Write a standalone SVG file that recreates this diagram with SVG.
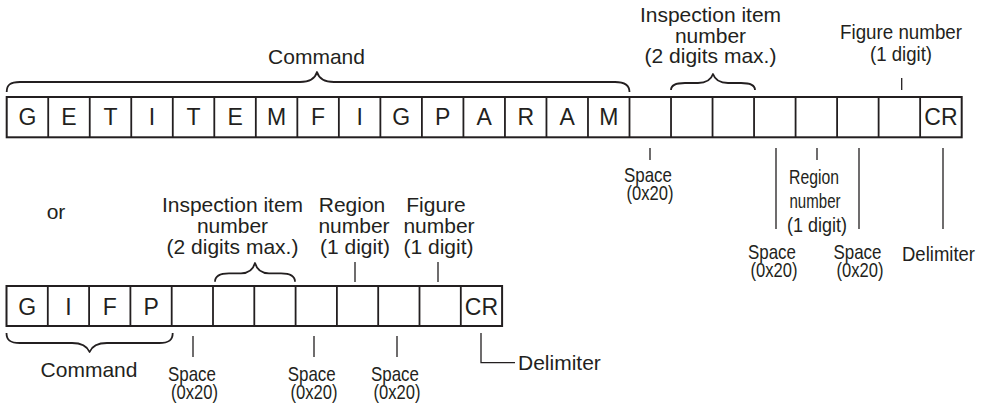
<svg xmlns="http://www.w3.org/2000/svg" width="988" height="406" viewBox="0 0 988 406">
<style>
.box{fill:#fff;stroke:#231f20;stroke-width:2}
.div{fill:none;stroke:#231f20;stroke-width:1.8}
.ln{fill:none;stroke:#231f20;stroke-width:1.3}
.br{fill:none;stroke:#231f20;stroke-width:1.8;stroke-linejoin:round}
text{font-family:"Liberation Sans",Arial,sans-serif;fill:#231f20}
.lbl{font-size:21px;text-anchor:middle}
.ltr{font-size:23px;text-anchor:middle}
.cnd{font-size:21px;text-anchor:middle}
.lft{font-size:21px;text-anchor:start}
</style>
<rect width="988" height="406" fill="#fff"/>

<g id="top-row">
<rect class="box" x="6.7" y="97" width="955" height="40.3"/>
<path class="div" d="M48.22,97V137.3M89.74,97V137.3M131.26,97V137.3M172.78,97V137.3M214.3,97V137.3M255.82,97V137.3M297.34,97V137.3M338.86,97V137.3M380.38,97V137.3M421.9,97V137.3M463.42,97V137.3M504.94,97V137.3M546.46,97V137.3M587.98,97V137.3M629.5,97V137.3M671.02,97V137.3M712.54,97V137.3M754.06,97V137.3M795.58,97V137.3M837.1,97V137.3M878.62,97V137.3M920.14,97V137.3"/>
<g class="ltr">
<text x="27.46" y="125">G</text>
<text x="68.98" y="125">E</text>
<text x="110.5" y="125">T</text>
<text x="152.02" y="125">I</text>
<text x="193.54" y="125">T</text>
<text x="235.06" y="125">E</text>
<text x="276.58" y="125">M</text>
<text x="318.1" y="125">F</text>
<text x="359.62" y="125">I</text>
<text x="401.14" y="125">G</text>
<text x="442.66" y="125">P</text>
<text x="484.18" y="125">A</text>
<text x="525.7" y="125">R</text>
<text x="567.22" y="125">A</text>
<text x="608.74" y="125">M</text>
<text x="940.9" y="125">CR</text>
</g>
</g>

<g id="bottom-row">
<rect class="box" x="6.5" y="286" width="495.6" height="40"/>
<path class="div" d="M47.8,286V326M89.1,286V326M130.4,286V326M171.7,286V326M213,286V326M254.3,286V326M295.6,286V326M336.9,286V326M378.2,286V326M419.5,286V326M460.8,286V326"/>
<g class="ltr">
<text x="27.15" y="315">G</text>
<text x="68.45" y="315">I</text>
<text x="109.75" y="315">F</text>
<text x="151.05" y="315">P</text>
<text x="481.45" y="315">CR</text>
</g>
</g>

<g id="connectors">
<path class="br" d="M6.7,92C6.7,85 10,82 20,82L300,82C310,82 315,79 317,72C319,79 324,82 334,82L615,82C625,82 629.5,85 629.5,92"/>
<path class="br" d="M671,90C671,85 675,83 685,83L698,83C706,83 711,80 713,74C715,80 720,83 728,83L741,83C751,83 755,85 755,90"/>
<path class="br" d="M215,281.7C215,276 219,273.3 229,273.3L241,273.3C249,273.3 253,270 255,263C257,270 261,273.3 269,273.3L281,273.3C291,273.3 295,276 295,281.7"/>
<path class="br" d="M6.5,333C6.5,340 10,343 20,343L72,343C82,343 87,346 89.6,352C92,346 97,343 107,343L159,343C169,343 172.7,340 172.7,333"/>
<path class="ln" d="M901.7,78V90M650,148V160M817,148V160M776,148V229M859,148V229M943,148V229M355,262V282M438,262V282M193,336V357M314,336V357M397,336V357"/>
<path class="ln" d="M481,333V362.7H515"/>
</g>

<g id="labels">
<text class="lbl" x="316.5" y="64">Command</text>
<text class="lbl" x="710.5" y="22">Inspection item</text>
<text class="lbl" x="710.5" y="43">number</text>
<text class="lbl" x="710.5" y="63">(2 digits max.)</text>
<text class="cnd" x="901" y="39" textLength="122" lengthAdjust="spacingAndGlyphs">Figure number</text>
<text class="cnd" x="901" y="61" textLength="62" lengthAdjust="spacingAndGlyphs">(1 digit)</text>
<text class="cnd" x="648" y="182" textLength="48" lengthAdjust="spacingAndGlyphs">Space</text>
<text class="cnd" x="650" y="200" textLength="47" lengthAdjust="spacingAndGlyphs">(0x20)</text>
<text class="cnd" x="814" y="184" textLength="50" lengthAdjust="spacingAndGlyphs">Region</text>
<text class="cnd" x="815" y="208" textLength="51" lengthAdjust="spacingAndGlyphs">number</text>
<text class="cnd" x="817" y="232" textLength="60" lengthAdjust="spacingAndGlyphs">(1 digit)</text>
<text class="cnd" x="772" y="259" textLength="48" lengthAdjust="spacingAndGlyphs">Space</text>
<text class="cnd" x="774" y="277" textLength="47" lengthAdjust="spacingAndGlyphs">(0x20)</text>
<text class="cnd" x="857.5" y="259" textLength="48" lengthAdjust="spacingAndGlyphs">Space</text>
<text class="cnd" x="860" y="277" textLength="47" lengthAdjust="spacingAndGlyphs">(0x20)</text>
<text class="cnd" x="938.5" y="261" textLength="73" lengthAdjust="spacingAndGlyphs">Delimiter</text>
<text class="lbl" x="56" y="219">or</text>
<text class="lbl" x="232.5" y="212">Inspection item</text>
<text class="lbl" x="232.5" y="233">number</text>
<text class="lbl" x="232.5" y="254">(2 digits max.)</text>
<text class="lbl" x="352" y="212">Region</text>
<text class="lbl" x="354" y="233">number</text>
<text class="lbl" x="355" y="254">(1 digit)</text>
<text class="lbl" x="436" y="212">Figure</text>
<text class="lbl" x="439" y="233">number</text>
<text class="lbl" x="438.5" y="254">(1 digit)</text>
<text class="lbl" x="89" y="377">Command</text>
<text class="cnd" x="192" y="381" textLength="48" lengthAdjust="spacingAndGlyphs">Space</text>
<text class="cnd" x="194.5" y="399" textLength="47" lengthAdjust="spacingAndGlyphs">(0x20)</text>
<text class="cnd" x="311.7" y="381" textLength="48" lengthAdjust="spacingAndGlyphs">Space</text>
<text class="cnd" x="314" y="399" textLength="47" lengthAdjust="spacingAndGlyphs">(0x20)</text>
<text class="cnd" x="395" y="381" textLength="48" lengthAdjust="spacingAndGlyphs">Space</text>
<text class="cnd" x="397" y="399" textLength="47" lengthAdjust="spacingAndGlyphs">(0x20)</text>
<text class="lft" x="518" y="370">Delimiter</text>
</g>
</svg>
